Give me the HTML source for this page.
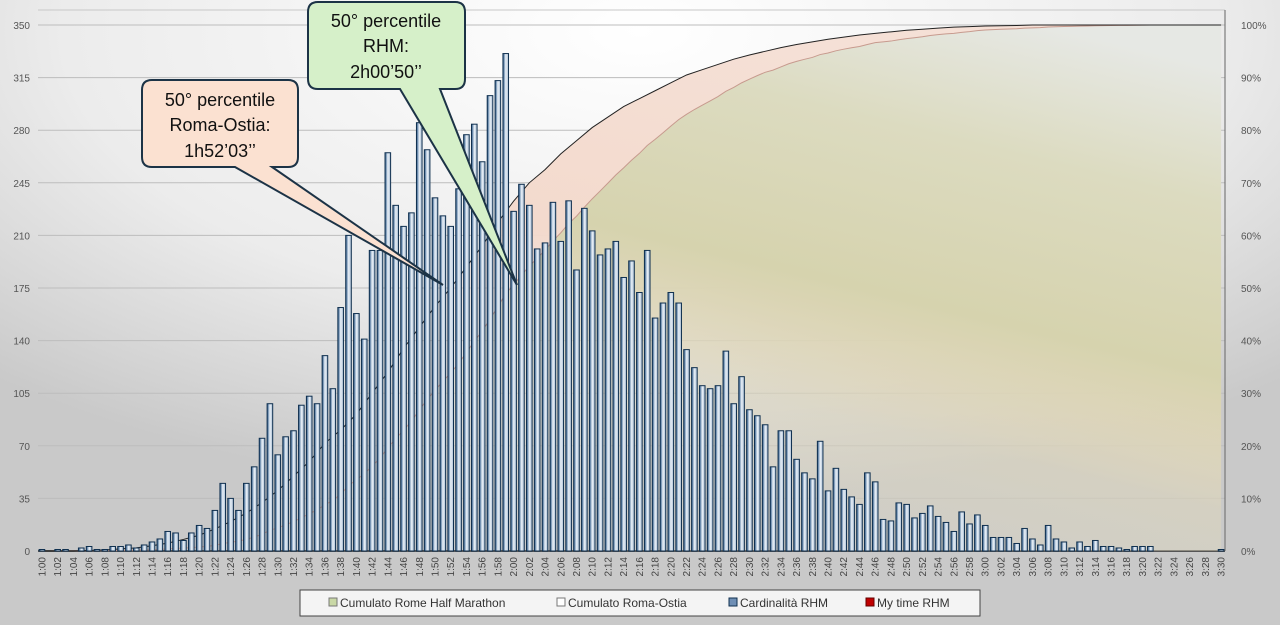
<!DOCTYPE html>
<html><head><meta charset="utf-8"><style>
html,body{margin:0;padding:0;width:1280px;height:625px;overflow:hidden;background:#d8d8d8;font-family:"Liberation Sans",sans-serif}
</style></head><body>
<svg id="chart" width="1280" height="625" xmlns="http://www.w3.org/2000/svg">
<defs>
<radialGradient id="bgG" cx="0.5" cy="0.05" r="0.75">
<stop offset="0" stop-color="#ffffff"/><stop offset="0.6" stop-color="#ececec"/><stop offset="1" stop-color="#c9c9c9"/>
</radialGradient>
<linearGradient id="pinkG" x1="0.3" y1="0.9" x2="0.75" y2="0.1">
<stop offset="0" stop-color="#f2d8cc" stop-opacity="0"/><stop offset="0.35" stop-color="#f2d8cc" stop-opacity="0.2"/><stop offset="0.55" stop-color="#f3dacd" stop-opacity="1"/><stop offset="1" stop-color="#f5e0d6" stop-opacity="1"/>
</linearGradient>
<linearGradient id="greenG" x1="0.3" y1="1" x2="0.85" y2="0">
<stop offset="0" stop-color="#dcdcc8" stop-opacity="0"/><stop offset="0.35" stop-color="#d8d6b6" stop-opacity="0.4"/><stop offset="0.55" stop-color="#d6d3ae" stop-opacity="1"/><stop offset="0.8" stop-color="#dcdbc0" stop-opacity="1"/><stop offset="1" stop-color="#e6e8e4" stop-opacity="1"/>
</linearGradient>
<linearGradient id="barG" x1="0" y1="0" x2="1" y2="0">
<stop offset="0" stop-color="#1f4e80"/><stop offset="0.5" stop-color="#eaf1f8"/><stop offset="1" stop-color="#a8bcd2"/>
</linearGradient>
</defs>
<rect x="0" y="0" width="1280" height="625" fill="url(#bgG)"/>
<g id="grid"></g><g id="areas"></g><g id="bars"></g><g id="axes"></g><g id="callouts"></g><g id="legend"></g>
</svg>
<script>
const minutes = [];
for (let m = 60; m <= 210; m++) minutes.push(Math.floor(m/60) + ':' + String(m%60).padStart(2,'0'));
const rhmCounts = [1,0,1,1,0,2,3,1,1,3,3,4,2,4,6,8,13,12,7,12,17,15,27,45,35,27,45,56,75,98,64,76,80,97,103,98,130,108,162,210,158,141,200,200,265,230,216,225,285,267,235,223,216,241,277,284,259,303,313,331,226,244,230,201,205,232,206,233,187,228,213,197,201,206,182,193,172,200,155,165,172,165,134,122,110,108,110,133,98,116,94,90,84,56,80,80,61,52,48,73,40,55,41,36,31,52,46,21,20,32,31,22,25,30,23,19,13,26,18,24,17,9,9,9,5,15,8,4,17,8,6,2,6,3,7,3,3,2,1,3,3,3,0,0,0,0,0,0,0,0,1];
const ostiaIdx = [0,2,4,6,8,10,12,14,16,18,20,22,24,26,28,30,32,34,36,38,40,42,44,46,48,50,52,54,56,58,60,62,64,66,68,70,72,74,76,78,80,82,84,86,88,90,92,94,96,98,100,102,104,106,108,110,112,114,116,118,120,122,124,126,150];
const ostiaCumPct = [0,0,0,0.1,0.2,0.4,0.6,1.0,1.5,2.2,3.0,4.2,5.6,7.2,9.2,11.5,14.2,17,20.5,23,26,30,34,38.5,42.5,46.5,50,54,58,62.5,66.5,70,72.5,75.5,78,80.5,82.5,84.5,86,87.5,89,90.5,91.5,92.5,93.5,94.3,95,95.7,96.3,96.8,97.3,97.7,98.1,98.4,98.7,99,99.2,99.4,99.6,99.7,99.8,99.85,99.9,100,100];
const countTicks = [0,35,70,105,140,175,210,245,280,315,350];
const pctTicks = ['0%','10%','20%','30%','40%','50%','60%','70%','80%','90%','100%'];
const legendLabels = ['Cumulato Rome Half Marathon','Cumulato Roma-Ostia','Cardinalità RHM','My time RHM'];

const NS='http://www.w3.org/2000/svg';
const L=38,R=1225,B=551,T=25;
const step=(R-L)/minutes.length;
const xc=i=>L+step*(i+0.5);
const y=v=>B-v*(B-T)/350;
const yp=p=>B-p*(B-T)/100;
function mk(tag,attrs,parent,text){const e=document.createElementNS(NS,tag);for(const k in attrs)e.setAttribute(k,attrs[k]);if(text!==undefined)e.textContent=text;parent.appendChild(e);return e;}
const grid=document.getElementById('grid'),areas=document.getElementById('areas'),bars=document.getElementById('bars'),axes=document.getElementById('axes');

mk('line',{x1:L,x2:R,y1:10,y2:10,stroke:'#c8c8c8','stroke-width':1},grid);
countTicks.forEach((t,k)=>{
  const ln=mk('line',{x1:L,x2:R,y1:y(t),y2:y(t),stroke:k==0?'#555':'#bdbdbd','stroke-width':k==0?2:1},grid);
  
  
  const tl=mk('text',{x:30,y:y(t)+4,'text-anchor':'end','font-size':10,fill:'#555'},axes,String(t));
  
  
  const tr=mk('text',{x:1241,y:y(t)+4,'font-size':10,fill:'#555'},axes,pctTicks[k]);
  
  
});
mk('line',{x1:R,x2:R,y1:10,y2:B,stroke:'#666','stroke-width':1},axes);

// cumulative RHM
const total=rhmCounts.reduce((a,b)=>a+b,0);
let c=0;const rhmCum=rhmCounts.map(v=>{c+=v;return c/total*100;});
// Roma-Ostia area
let ptsO=ostiaIdx.map((i,k)=>xc(i)+','+yp(ostiaCumPct[k]));
const po=mk('polygon',{points:xc(0)+','+B+' '+ptsO.join(' ')+' '+xc(150)+','+B,fill:'url(#pinkG)'},areas);


let ptsG=rhmCum.map((p,i)=>xc(i)+','+yp(p));
const pg=mk('polygon',{points:xc(0)+','+B+' '+ptsG.join(' ')+' '+xc(150)+','+B,fill:'url(#greenG)'},areas);


const lg=mk('polyline',{points:ptsG.join(' '),fill:'none',stroke:'#c79a8e','stroke-width':1},areas);


const lo=mk('polyline',{points:ptsO.join(' '),fill:'none',stroke:'#222','stroke-width':1},areas);



rhmCounts.forEach((v,i)=>{
  if(v<=0)return;
  const r=mk('rect',{x:xc(i)-2.8,y:y(v),width:5.6,height:B-y(v),fill:'url(#barG)',stroke:'#10304f','stroke-width':1},bars);
  
  
});
minutes.forEach((m,i)=>{
  if(i%2)return;
  const t=mk('text',{x:0,y:0,'font-size':10,fill:'#444','text-anchor':'end',transform:`translate(${xc(i)+3.5},557) rotate(-90)`},axes,m);
  
  
});
</script>
<svg style="position:absolute;left:0;top:0" width="1280" height="625">
<g>
<path d="M152,80 H288 Q298,80 298,90 V157 Q298,167 288,167 H272 L443,285 L235,167 H152 Q142,167 142,157 V90 Q142,80 152,80 Z" fill="#fbe1d1" stroke="#1c3346" stroke-width="2"/>
<text x="220" y="106" text-anchor="middle" font-size="18" fill="#111">50° percentile</text>
<text x="220" y="131" text-anchor="middle" font-size="18" fill="#111">Roma-Ostia:</text>
<text x="220" y="157" text-anchor="middle" font-size="18" fill="#111">1h52’03’’</text>
</g>
<g>
<path d="M318,2 H455 Q465,2 465,12 V79 Q465,89 455,89 H440 L517,285 L400,89 H318 Q308,89 308,79 V12 Q308,2 318,2 Z" fill="#d6f0c9" stroke="#1c3346" stroke-width="2"/>
<text x="386" y="27" text-anchor="middle" font-size="18" fill="#111">50° percentile</text>
<text x="386" y="52" text-anchor="middle" font-size="18" fill="#111">RHM:</text>
<text x="386" y="78" text-anchor="middle" font-size="18" fill="#111">2h00’50’’</text>
</g>
<g>
<rect x="300" y="590" width="680" height="26" fill="#f4f4f4" stroke="#444" stroke-width="1"/>
<rect x="329" y="598" width="8" height="8" fill="#c9d8a6" stroke="#777"/>
<text x="340" y="607" font-size="12" fill="#333">Cumulato Rome Half Marathon</text>
<rect x="557" y="598" width="8" height="8" fill="#fff" stroke="#777"/>
<text x="568" y="607" font-size="12" fill="#333">Cumulato Roma-Ostia</text>
<rect x="729" y="598" width="8" height="8" fill="#6f8fb5" stroke="#10304f"/>
<text x="740" y="607" font-size="12" fill="#333">Cardinalità RHM</text>
<rect x="866" y="598" width="8" height="8" fill="#c00000" stroke="#600"/>
<text x="877" y="607" font-size="12" fill="#333">My time RHM</text>
</g>
</svg>
</body></html>
